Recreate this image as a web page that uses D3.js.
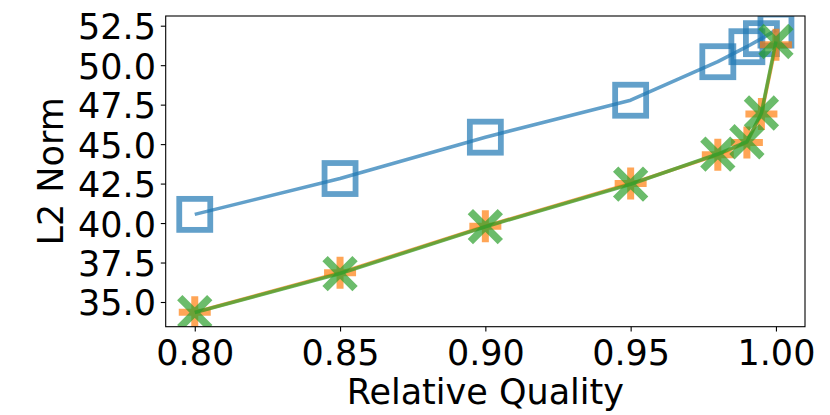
<!DOCTYPE html>
<html>
<head>
<meta charset="utf-8">
<script src="https://cdn.jsdelivr.net/npm/d3@7/dist/d3.min.js"></script>
<style>
html,body{margin:0;padding:0;background:#fff;}
svg{display:block;font-family:"DejaVu Sans",sans-serif;}
</style>
</head>
<body>
<svg id="chart" width="830" height="415"></svg>
<script>
const quality = [0.80, 0.85, 0.90, 0.95, 0.98, 0.99, 0.995, 1.00];
const seriesBlue   = [40.55, 42.82, 45.44, 47.78, 50.22, 51.17, 51.68, 52.22];
const seriesOrange = [34.35, 36.85, 39.80, 42.50, 44.33, 45.10, 46.90, 51.30];
const seriesGreen  = [34.33, 36.80, 39.77, 42.46, 44.37, 45.15, 46.97, 51.50];
const xTicks = [0.80, 0.85, 0.90, 0.95, 1.00];
const yTicks = [35.0, 37.5, 40.0, 42.5, 45.0, 47.5, 50.0, 52.5];
const xLabel = "Relative Quality";
const yLabel = "L2 Norm";

const L = 165.7, R = 805, T = 16, B = 326.7;
const fs = 35;

const svg = d3.select("#chart");

const xmin = d3.min(quality), xmax = d3.max(quality);
const allY = seriesBlue.concat(seriesOrange, seriesGreen);
const ymin = d3.min(allY), ymax = d3.max(allY);
const xp = (xmax - xmin) * 0.05, yp = (ymax - ymin) * 0.05;
const x = d3.scaleLinear().domain([xmin - xp, xmax + xp]).range([L, R]);
const y = d3.scaleLinear().domain([ymin - yp, ymax + yp]).range([B, T]);

svg.append("defs").append("clipPath").attr("id", "clip")
  .append("rect").attr("x", L).attr("y", T).attr("width", R - L).attr("height", B - T);

const plot = svg.append("g").attr("clip-path", "url(#clip)");

const line = d3.line().x((d, i) => x(quality[i])).y(d => y(d));

function drawSeries(vals, color, marker) {
  plot.append("path").datum(vals)
    .attr("d", line)
    .attr("fill", "none")
    .attr("stroke", color)
    .attr("stroke-opacity", 0.7)
    .attr("stroke-width", 3.6)
    .attr("stroke-linejoin", "round");
  const g = plot.append("g");
  vals.forEach((v, i) => {
    const cx = x(quality[i]), cy = y(v);
    if (marker === "square") {
      const s = 31;
      g.append("rect").attr("x", cx - s / 2).attr("y", cy - s / 2)
        .attr("width", s).attr("height", s)
        .attr("fill", "none").attr("stroke", color)
        .attr("stroke-opacity", 0.7).attr("stroke-width", 5.8);
    } else if (marker === "plus") {
      const h = 16;
      g.append("path")
        .attr("d", `M${cx - h},${cy}L${cx + h},${cy}M${cx},${cy - h}L${cx},${cy + h}`)
        .attr("fill", "none").attr("stroke", color)
        .attr("stroke-opacity", 0.7).attr("stroke-width", 7);
    } else {
      const h = 15;
      g.append("path")
        .attr("d", `M${cx - h},${cy - h}L${cx + h},${cy + h}M${cx - h},${cy + h}L${cx + h},${cy - h}`)
        .attr("fill", "none").attr("stroke", color)
        .attr("stroke-opacity", 0.7).attr("stroke-width", 7.5);
    }
  });
}

drawSeries(seriesBlue, "#1f77b4", "square");
drawSeries(seriesOrange, "#ff7f0e", "plus");
drawSeries(seriesGreen, "#2ca02c", "x");

// axes
const xAxis = d3.axisBottom(x).tickValues(xTicks).tickFormat(d3.format(".2f")).tickSize(4.9).tickPadding(4.9);
const yAxis = d3.axisLeft(y).tickValues(yTicks).tickFormat(d3.format(".1f")).tickSize(4.9).tickPadding(4.9);

const gx = svg.append("g").attr("transform", `translate(0,${B})`).call(xAxis);
gx.select(".domain").remove();
gx.selectAll(".tick line").attr("stroke", "#000").attr("stroke-width", 1.1);
gx.selectAll(".tick text").attr("font-size", fs).attr("font-family", "DejaVu Sans")
  .attr("fill", "#000").attr("dy", null).attr("y", 365 - B);

const gy = svg.append("g").attr("transform", `translate(${L},0)`).call(yAxis);
gy.select(".domain").remove();
gy.selectAll(".tick line").attr("stroke", "#000").attr("stroke-width", 1.1);
gy.selectAll(".tick text").attr("font-size", fs).attr("font-family", "DejaVu Sans")
  .attr("fill", "#000").attr("dy", null).attr("y", 13).attr("x", -9.8);

// frame
svg.append("rect").attr("x", L).attr("y", T).attr("width", R - L).attr("height", B - T)
  .attr("fill", "none").attr("stroke", "#000").attr("stroke-width", 1.1);

// labels
svg.append("text").attr("x", (L + R) / 2).attr("y", 404)
  .attr("text-anchor", "middle").attr("font-size", fs).attr("fill", "#000").text(xLabel);
svg.append("text")
  .attr("transform", `translate(63,${(T + B) / 2}) rotate(-90)`)
  .attr("text-anchor", "middle").attr("font-size", fs).attr("fill", "#000").text(yLabel);
</script>
</body>
</html>
